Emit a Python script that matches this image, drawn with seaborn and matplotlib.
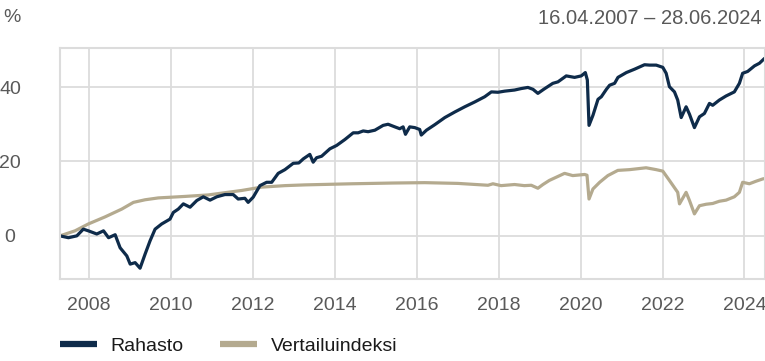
import matplotlib
matplotlib.use("Agg")
import matplotlib.pyplot as plt
import matplotlib.dates as mdates
import pandas as pd
import seaborn as sns

# Cumulative return of the fund (%)
fund_dates = [
    "2007-04-16", "2007-06-30", "2007-09-13", "2007-11-10", "2007-12-25",
    "2008-03-09", "2008-05-08", "2008-06-22", "2008-08-20", "2008-10-03",
    "2008-12-02", "2009-01-01", "2009-02-14", "2009-03-30", "2009-05-14",
    "2009-06-27", "2009-08-11", "2009-10-09", "2009-12-22", "2010-01-21",
    "2010-03-06", "2010-04-20", "2010-06-19", "2010-08-18", "2010-10-15",
    "2010-12-14", "2011-02-12", "2011-04-26", "2011-07-09", "2011-08-22",
    "2011-10-21", "2011-11-19", "2012-01-03", "2012-03-03", "2012-05-02",
    "2012-06-16", "2012-08-13", "2012-10-12", "2012-12-25", "2013-02-13",
    "2013-03-25", "2013-05-22", "2013-06-21", "2013-07-21", "2013-09-04",
    "2013-11-17", "2014-01-16", "2014-03-31", "2014-06-13", "2014-07-27",
    "2014-09-10", "2014-10-24", "2014-12-23", "2015-03-07", "2015-04-20",
    "2015-06-19", "2015-08-02", "2015-09-01", "2015-09-22", "2015-10-30",
    "2015-12-14", "2016-01-27", "2016-02-10", "2016-03-27", "2016-06-10",
    "2016-09-07", "2016-12-05", "2017-03-04", "2017-06-01", "2017-08-29",
    "2017-10-27", "2017-12-25", "2018-02-23", "2018-05-22", "2018-07-21",
    "2018-09-18", "2018-11-02", "2018-12-16", "2019-02-06", "2019-04-28",
    "2019-06-13", "2019-08-26", "2019-11-08", "2020-01-07", "2020-02-12",
    "2020-03-01", "2020-03-16", "2020-04-20", "2020-06-04", "2020-07-04",
    "2020-08-18", "2020-09-16", "2020-10-30", "2020-11-29", "2021-02-12",
    "2021-04-26", "2021-07-24", "2021-09-07", "2021-11-05", "2022-01-03",
    "2022-02-02", "2022-03-03", "2022-04-17", "2022-05-16", "2022-06-16",
    "2022-07-30", "2022-08-29", "2022-10-12", "2022-11-26", "2023-01-09",
    "2023-02-23", "2023-03-24", "2023-05-22", "2023-07-21", "2023-10-03",
    "2023-11-17", "2023-12-16", "2024-01-30", "2024-03-31", "2024-05-14",
    "2024-06-28",
]
fund_values = [
    0.0, -0.5, 0.0, 1.8, 1.35,
    0.5, 1.35, -0.5, 0.3, -3.2,
    -5.4, -7.6, -7.2, -8.7, -4.9,
    -1.35, 1.8, 3.2, 4.5, 6.3,
    7.2, 8.6, 7.7, 9.5, 10.5,
    9.6, 10.5, 11.1, 11.1, 9.9,
    10.1, 9.0, 10.4, 13.5, 14.4,
    14.4, 16.8, 17.8, 19.5, 19.6,
    20.7, 21.9, 19.8, 21.0, 21.4,
    23.4, 24.3, 25.9, 27.7, 27.7,
    28.2, 28.0, 28.4, 29.7, 30.0,
    29.3, 28.8, 29.3, 27.3, 29.3,
    29.1, 28.6, 27.1, 28.4, 29.9,
    31.8, 33.3, 34.7, 36.0, 37.4,
    38.7, 38.6, 38.9, 39.2, 39.6,
    39.9, 39.4, 38.3, 39.4, 41.0,
    41.4, 43.0, 42.6, 43.0, 43.9,
    41.9, 29.7, 32.4, 36.7, 37.4,
    39.4, 40.5, 41.0, 42.6, 43.9,
    44.8, 46.0, 45.9, 45.9, 45.3,
    43.7, 40.1, 38.7, 36.5, 31.8,
    34.7, 32.7, 29.1, 32.0, 32.9,
    35.6, 35.1, 36.5, 37.6, 38.7,
    41.0, 43.7, 44.2, 45.7, 46.4,
    47.7,
]

# Cumulative return of the benchmark index (%)
bench_dates = [
    "2007-04-16", "2007-08-28", "2007-12-25", "2008-05-22", "2008-10-18",
    "2009-01-30", "2009-05-14", "2009-09-09", "2010-01-07", "2010-05-05",
    "2010-11-28", "2011-09-22", "2012-03-18", "2012-10-12", "2013-04-08",
    "2014-06-01", "2015-06-01", "2016-03-12", "2017-01-01", "2017-09-27",
    "2017-11-10", "2018-01-22", "2018-05-22", "2018-08-17", "2018-10-18",
    "2018-12-16", "2019-01-30", "2019-03-28", "2019-08-11", "2019-10-23",
    "2020-02-06", "2020-02-27", "2020-03-16", "2020-04-20", "2020-06-19",
    "2020-08-31", "2020-11-28", "2021-03-13", "2021-08-07", "2021-11-05",
    "2022-01-03", "2022-03-03", "2022-05-16", "2022-06-01", "2022-07-30",
    "2022-08-29", "2022-10-12", "2022-11-26", "2023-01-25", "2023-03-24",
    "2023-05-22", "2023-07-21", "2023-10-03", "2023-11-17", "2023-12-16",
    "2024-02-14", "2024-04-15", "2024-06-12", "2024-06-28",
]
bench_values = [
    0.0, 1.35, 3.2, 5.1, 7.2,
    9.0, 9.7, 10.2, 10.4, 10.6,
    11.0, 12.2, 13.1, 13.5, 13.7,
    14.0, 14.2, 14.3, 14.1, 13.6,
    14.0, 13.5, 13.8, 13.5, 13.6,
    12.8, 13.8, 14.9, 16.8, 16.2,
    16.5, 16.3, 9.9, 12.6, 14.4,
    16.2, 17.6, 17.8, 18.3, 17.8,
    17.4, 14.9, 11.7, 8.6, 11.7,
    9.5, 5.9, 8.1, 8.5, 8.7,
    9.3, 9.6, 10.5, 11.7, 14.4,
    14.0, 14.7, 15.3, 15.4,
]

series_names = ["Rahasto", "Vertailuindeksi"]
series_colors = ["#0e2b4a", "#b4aa8f"]
year_ticks = list(range(2008, 2025, 2))
y_ticks = [0, 20, 40]
period_label = "16.04.2007 \u2013 28.06.2024"
unit_label = "%"

df = pd.concat([
    pd.DataFrame({"date": pd.to_datetime(fund_dates), "value": fund_values,
                  "series": series_names[0]}),
    pd.DataFrame({"date": pd.to_datetime(bench_dates), "value": bench_values,
                  "series": series_names[1]}),
], ignore_index=True)

sns.set_theme(style="white")
plt.rcParams["font.family"] = ["Liberation Sans", "DejaVu Sans"]

W, H = 765, 361
fig = plt.figure(figsize=(W / 100, H / 100), dpi=100)
ax = fig.add_axes([60 / W, (H - 279) / H, (764.5 - 60) / W, (279 - 48) / H])

grid_c = "#dcdcdc"
ax.set_axisbelow(True)
for y in y_ticks:
    ax.axhline(y, color=grid_c, lw=1.3, zorder=0)
for yr in year_ticks:
    ax.axvline(pd.Timestamp(f"{yr}-01-01"), color=grid_c, lw=1.3, zorder=0)

sns.lineplot(data=df, x="date", y="value", hue="series",
             hue_order=series_names[::-1],
             palette=dict(zip(series_names, series_colors)),
             linewidth=2.3, ax=ax, legend=False, estimator=None, sort=True)

ax.set_xlim(pd.Timestamp("2007-04-16"), pd.Timestamp("2024-06-28"))
ax.set_ylim(-11.6, 50.5)
ax.set_xticks([pd.Timestamp(f"{yr}-01-01") for yr in year_ticks])
ax.xaxis.set_major_formatter(mdates.DateFormatter("%Y"))
ax.set_yticks(y_ticks)
ax.set_xlabel("")
ax.set_ylabel("")

tick_c = "#595959"
ax.tick_params(axis="x", length=0, pad=13, labelsize=14, labelcolor=tick_c)
ax.tick_params(axis="y", length=0, pad=36, labelsize=14, labelcolor=tick_c)
for lbl in ax.get_yticklabels():
    lbl.set_horizontalalignment("center")

for side in ["left", "right", "top", "bottom"]:
    ax.spines[side].set_visible(True)
    ax.spines[side].set_color(grid_c)
    ax.spines[side].set_linewidth(1.5)

fig.text(12 / W, 1 - 18 / H, unit_label, ha="center", va="center",
         fontsize=14, color=tick_c)
fig.text(762 / W, 1 - 18 / H, period_label, ha="right", va="center",
         fontsize=14.5, color=tick_c)

handles = [plt.Line2D([], [], color=c, lw=4.5, solid_capstyle="butt")
           for c in series_colors]
fig.legend(handles, series_names, loc="center left",
           bbox_to_anchor=(50 / W, 15 / H), ncol=2, frameon=False,
           fontsize=14, handlelength=1.9, handletextpad=0.72,
           columnspacing=1.85, borderpad=0, labelcolor="#1a1a1a")

fig.savefig("out.png", dpi=100)
